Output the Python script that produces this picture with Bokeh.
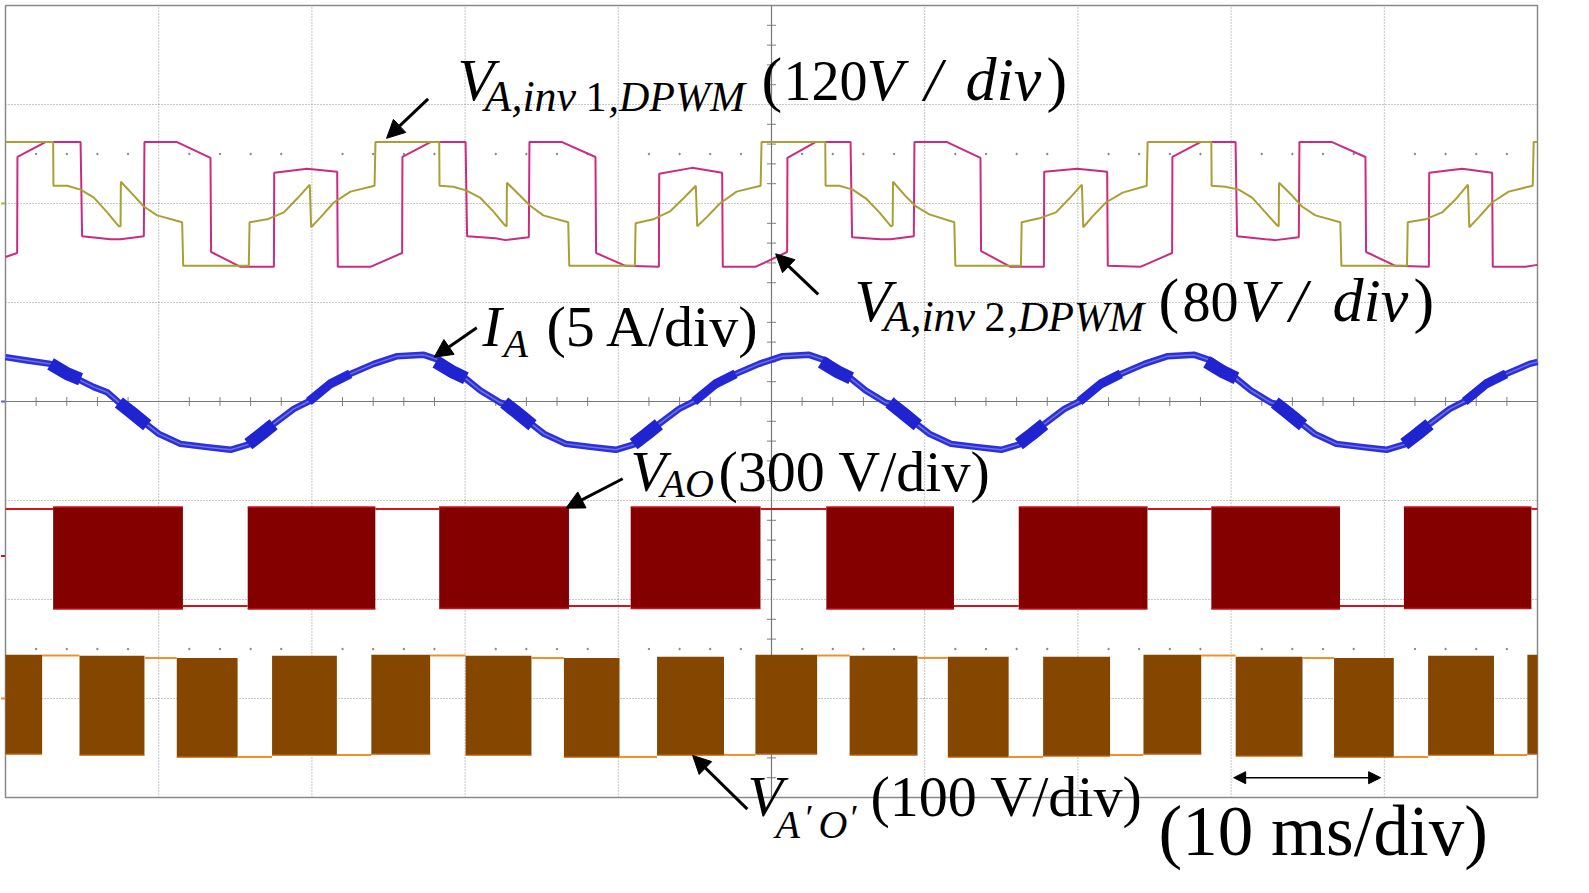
from bokeh.plotting import figure
from bokeh.models import Label, Arrow, NormalHead, Range1d
from bokeh.embed import file_html
from bokeh.resources import INLINE

# ---------- channel 1: V_A,inv2 (magenta), time in ms, level in divisions ----------
pink_t = [0, 0.76, 0.78, 2.61, 4.90, 5.00, 6.85, 7.51, 9.03, 9.07, 11.20, 13.38, 13.42, 15.34, 17.52, 17.54, 19.69, 21.65, 21.69, 23.82, 25.89,
          25.91, 27.74, 30.03, 30.13, 31.98, 32.64, 34.16, 34.20, 36.33, 38.51, 38.55, 40.47, 42.65, 42.67, 44.82, 46.78, 46.82, 48.95, 51.02,
          51.04, 52.87, 55.16, 55.26, 57.11, 57.77, 59.29, 59.33, 61.46, 63.64, 63.68, 65.60, 67.78, 67.80, 69.95, 71.91, 71.95, 74.08, 76.15,
          76.17, 78.00, 80.29, 80.39, 82.24, 82.90, 84.42, 84.46, 86.59, 88.77, 88.81, 90.73, 92.91, 92.93, 95.08, 97.04, 97.08, 99.21, 100]
pink_v = [1.46, 1.50, 2.47, 2.62, 2.62, 1.67, 1.64, 1.64, 1.67, 2.62, 2.62, 2.46, 1.51, 1.36, 1.36, 2.31, 2.35, 2.32, 1.36, 1.36, 1.50,
          2.47, 2.62, 2.62, 1.67, 1.65, 1.63, 1.66, 2.62, 2.62, 2.47, 1.50, 1.37, 1.36, 2.30, 2.36, 2.31, 1.36, 1.36, 1.51,
          2.46, 2.62, 2.62, 1.66, 1.64, 1.64, 1.67, 2.62, 2.62, 2.46, 1.52, 1.36, 1.36, 2.32, 2.35, 2.32, 1.37, 1.36, 1.50,
          2.47, 2.62, 2.62, 1.67, 1.64, 1.63, 1.66, 2.62, 2.62, 2.47, 1.51, 1.37, 1.36, 2.31, 2.35, 2.31, 1.36, 1.36, 1.38]

# ---------- channel 2: V_A,inv1 (olive) ----------
olive_t = [0, 3.11, 3.13, 4.03, 4.90, 5.77, 6.64, 7.40, 7.51, 7.53, 8.38, 9.03, 9.90, 11.53, 11.60, 15.88, 15.93, 17.08, 18.17, 19.04, 19.86, 19.95, 20.56, 21.43, 22.52, 24.09, 24.15,
           28.31, 28.33, 29.23, 30.10, 30.97, 31.84, 32.60, 32.71, 32.73, 33.58, 34.23, 35.10, 36.73, 36.80, 41.08, 41.13, 42.28, 43.37, 44.24, 45.06, 45.15, 45.76, 46.63, 47.72, 49.29, 49.35,
           53.51, 53.53, 54.43, 55.30, 56.17, 57.04, 57.80, 57.91, 57.93, 58.78, 59.43, 60.30, 61.93, 62.00, 66.28, 66.33, 67.48, 68.57, 69.44, 70.26, 70.35, 70.96, 71.83, 72.92, 74.49, 74.55,
           78.71, 78.73, 79.63, 80.50, 81.37, 82.24, 83.00, 83.11, 83.13, 83.98, 84.63, 85.50, 87.13, 87.20, 91.48, 91.53, 92.68, 93.77, 94.64, 95.46, 95.55, 96.16, 97.03, 98.12, 99.69, 99.75, 100]
olive_v = [2.62, 2.62, 2.18, 2.18, 2.14, 2.06, 1.91, 1.77, 1.77, 2.22, 2.08, 1.97, 1.88, 1.81, 1.37, 1.37, 1.81, 1.84, 1.91, 2.05, 2.19, 1.76, 1.86, 2.01, 2.12, 2.18, 2.62,
           2.62, 2.18, 2.17, 2.13, 2.06, 1.92, 1.78, 1.77, 2.21, 2.08, 1.98, 1.88, 1.81, 1.37, 1.37, 1.80, 1.84, 1.92, 2.05, 2.18, 1.77, 1.86, 2.00, 2.12, 2.18, 2.62,
           2.62, 2.18, 2.18, 2.14, 2.05, 1.91, 1.77, 1.78, 2.22, 2.07, 1.97, 1.89, 1.81, 1.37, 1.37, 1.81, 1.85, 1.91, 2.05, 2.19, 1.76, 1.87, 2.01, 2.11, 2.18, 2.62,
           2.62, 2.18, 2.17, 2.14, 2.06, 1.91, 1.78, 1.77, 2.21, 2.08, 1.97, 1.88, 1.81, 1.37, 1.37, 1.81, 1.84, 1.91, 2.04, 2.19, 1.76, 1.86, 2.01, 2.12, 2.18, 2.62, 2.62]

# ---------- channel 3: I_A (blue) ----------
curr_t = [0, 1.41, 2.94, 4.03, 5.77, 6.64, 7.51, 9.03, 10.01, 11.42, 13.16, 14.69, 15.99, 17.52, 18.82, 19.91, 21.21, 22.52, 24.04, 25.57,
          27.31, 28.39, 29.92, 31.00, 32.31, 32.66, 34.18, 35.16, 36.57, 38.31, 39.84, 41.14, 42.67, 43.97, 45.06, 46.36, 47.67, 49.19, 50.72,
          52.46, 53.54, 55.07, 56.15, 57.46, 57.81, 59.33, 60.31, 61.72, 63.46, 64.99, 66.29, 67.82, 69.12, 70.21, 71.51, 72.82, 74.34, 75.87,
          77.61, 78.69, 80.22, 81.30, 82.61, 82.96, 84.48, 85.46, 86.87, 88.61, 90.14, 91.44, 92.97, 94.27, 95.36, 96.66, 97.97, 99.49, 100]
curr_v = [0.448, 0.414, 0.380, 0.279, 0.145, 0.094, -0.024, -0.209, -0.327, -0.428, -0.461, -0.488, -0.428, -0.226, -0.074, 0.010, 0.178, 0.279, 0.380, 0.458,
          0.471, 0.414, 0.246, 0.111, -0.013, -0.024, -0.209, -0.327, -0.428, -0.461, -0.488, -0.428, -0.226, -0.074, 0.010, 0.178, 0.279, 0.380, 0.458,
          0.471, 0.414, 0.246, 0.111, -0.013, -0.024, -0.209, -0.327, -0.428, -0.461, -0.488, -0.428, -0.226, -0.074, 0.010, 0.178, 0.279, 0.380, 0.458,
          0.471, 0.414, 0.246, 0.111, -0.013, -0.024, -0.209, -0.327, -0.428, -0.461, -0.488, -0.428, -0.226, -0.074, 0.010, 0.178, 0.279, 0.380, 0.400]
burst_strong_t = [[2.94, 4.03, 4.90], [7.40, 8.30, 9.25], [15.85, 16.70, 17.50],
                  [28.09, 29.18, 30.05], [32.55, 33.45, 34.40], [41.00, 41.85, 42.65],
                  [53.25, 54.33, 55.20], [57.70, 58.60, 59.55], [66.15, 67.00, 67.80],
                  [78.40, 79.48, 80.35], [82.85, 83.75, 84.70], [91.30, 92.15, 92.95]]
burst_strong_v = [[0.38, 0.28, 0.225], [-0.01, -0.12, -0.24], [-0.43, -0.33, -0.23],
                  [0.40, 0.30, 0.235], [-0.01, -0.12, -0.24], [-0.43, -0.33, -0.23],
                  [0.40, 0.30, 0.235], [-0.01, -0.12, -0.24], [-0.43, -0.33, -0.23],
                  [0.40, 0.30, 0.235], [-0.01, -0.12, -0.24], [-0.43, -0.33, -0.23]]
burst_weak_t = [[19.80, 21.20, 22.50], [44.95, 46.35, 47.65], [70.10, 71.50, 72.80], [95.25, 96.65, 97.95]]
burst_weak_v = [[0.00, 0.178, 0.279], [0.00, 0.178, 0.279], [0.00, 0.178, 0.279], [0.00, 0.178, 0.279]]

# ---------- channel 4: V_AO (dark red PWM bursts) ----------
red_start = [3.11, 15.81, 28.31, 40.81, 53.58, 66.14, 78.71, 91.28]
red_end = [11.58, 24.14, 36.78, 49.28, 61.91, 74.54, 87.11, 99.60]
red_top = [-1.065, -1.065, -1.065, -1.065, -1.065, -1.065, -1.065, -1.065]
red_bottom = [-2.095, -2.095, -2.090, -2.090, -2.095, -2.095, -2.095, -2.090]
red_gap_start = [0, 11.58, 24.14, 36.78, 49.28, 61.91, 74.54, 87.11, 99.60]
red_gap_end = [3.11, 15.81, 28.31, 40.81, 53.58, 66.14, 78.71, 91.28, 100]
red_gap_level = [-1.085, -2.065, -1.085, -2.065, -1.085, -2.065, -1.085, -2.065, -1.085]

# ---------- channel 5: V_A'O' (brown PWM bursts) ----------
brown_start = [0, 4.83, 11.18, 17.40, 23.88, 30.03, 36.45, 42.53, 48.95, 55.10, 61.51, 67.73, 74.28, 80.30, 86.72, 92.86, 99.34]
brown_end = [2.39, 9.07, 15.15, 21.63, 27.72, 34.33, 40.08, 46.90, 52.98, 59.53, 65.48, 72.10, 78.05, 84.66, 90.62, 97.16, 100]
brown_top = [-2.559, -2.569, -2.59, -2.569, -2.559, -2.569, -2.59, -2.579, -2.559, -2.569, -2.579, -2.579, -2.559, -2.579, -2.59, -2.569, -2.559]
brown_bottom = [-3.562, -3.572, -3.593, -3.572, -3.562, -3.572, -3.593, -3.572, -3.562, -3.572, -3.593, -3.582, -3.562, -3.582, -3.593, -3.572, -3.562]
brown_gap_start = [2.39, 9.07, 15.15, 21.63, 27.72, 34.33, 40.08, 46.90, 52.98, 59.53, 65.48, 72.10, 78.05, 84.66, 90.62, 97.16]
brown_gap_end = [4.83, 11.18, 17.40, 23.88, 30.03, 36.45, 42.53, 48.95, 55.10, 61.51, 67.73, 74.28, 80.30, 86.72, 92.86, 99.34]
brown_gap_level = [-2.565, -2.59, -3.59, -3.57, -2.565, -2.59, -3.59, -3.57, -2.565, -2.59, -3.59, -3.57, -2.565, -2.59, -3.59, -3.57]

# ---------- channel ground markers on the left edge ----------
marker_v = [2.0, 0.0, -1.56, -3.0]
marker_color = ["#b8b040", "#5a5fe0", "#d0141c", "#f0902a"]

# ---------- scope graticule ----------
grid_t = [10, 20, 30, 40, 60, 70, 80, 90]
grid_v = [3, 2, 1, -1, -2, -3]
tick_t = [2, 4, 6, 8, 12, 14, 16, 18, 22, 24, 26, 28, 32, 34, 36, 38, 42, 44, 46, 48,
          52, 54, 56, 58, 62, 64, 66, 68, 72, 74, 76, 78, 82, 84, 86, 88, 92, 94, 96, 98]
tick_v = [3.8, 3.6, 3.4, 3.2, 2.8, 2.6, 2.4, 2.2, 1.8, 1.6, 1.4, 1.2, 0.8, 0.6, 0.4, 0.2,
          -0.2, -0.4, -0.6, -0.8, -1.2, -1.4, -1.6, -1.8, -2.2, -2.4, -2.6, -2.8, -3.2, -3.4, -3.6, -3.8]

W, H = 1589, 893
PX_MS = 15.32
PX_DIV = 99.0
def tx(px): return (px - 5) / PX_MS
def ty(py): return (401 - py) / PX_DIV

p = figure(width=W, height=H, output_backend="svg", toolbar_location=None,
           x_range=Range1d(tx(0), tx(W)), y_range=Range1d(ty(H), ty(0)),
           min_border=0, outline_line_color=None, background_fill_color="white",
           border_fill_color="white")
p.axis.visible = False
p.grid.visible = False

GRID = "#8c8c8c"
n = len(grid_t)
p.segment(grid_t, [-4] * n, grid_t, [4] * n, line_color=GRID, line_width=1, line_dash="1 2")
m = len(grid_v)
p.segment([0] * m, grid_v, [100] * m, grid_v, line_color=GRID, line_width=1, line_dash="1 2")
p.segment(tick_t, [-0.045] * len(tick_t), tick_t, [0.045] * len(tick_t), line_color="#808080", line_width=1)
p.segment([49.7] * len(tick_v), tick_v, [50.3] * len(tick_v), tick_v, line_color="#808080", line_width=1)
p.scatter(tick_t, [2.5] * len(tick_t), size=1.5, color="#808080")
p.scatter(tick_t, [-2.5] * len(tick_t), size=1.5, color="#808080")
p.segment([50], [-4], [50], [4], line_color="#777777", line_width=1.2)
p.segment([0], [0], [100], [0], line_color="#777777", line_width=1.2)
p.quad(left=[0], right=[100], top=[4], bottom=[-4], fill_color=None, line_color="#8a8a8a", line_width=1.5)
p.scatter([-0.16] * len(marker_v), marker_v, marker="dash", size=4, line_color=marker_color, line_width=2)

p.quad(left=red_start, right=red_end, top=red_top, bottom=red_bottom, fill_color="#840000", line_color=None)
p.segment(red_start, red_top, red_end, red_top, line_color="#c8121a", line_width=1.5)
p.segment(red_start, red_bottom, red_end, red_bottom, line_color="#c8121a", line_width=1.5)
p.segment(red_gap_start, red_gap_level, red_gap_end, red_gap_level, line_color="#d0141c", line_width=2)

p.quad(left=brown_start, right=brown_end, top=brown_top, bottom=brown_bottom, fill_color="#854700", line_color=None)
p.segment(brown_start, brown_bottom, brown_end, brown_bottom, line_color="#c86a10", line_width=1.2)
p.segment(brown_gap_start, brown_gap_level, brown_gap_end, brown_gap_level, line_color="#f0902a", line_width=2)

p.line(curr_t, curr_v, line_color="#2b30d8", line_width=6.5, line_join="round")
p.line(curr_t, curr_v, line_color="#6d72e6", line_width=1.5, line_join="round")
p.multi_line(burst_weak_t, burst_weak_v, line_color="#2226d4", line_width=9)
p.multi_line(burst_strong_t, burst_strong_v, line_color="#1f23d0", line_width=13)

p.line(pink_t, pink_v, line_color="#cc2a80", line_width=2)
p.line(olive_t, olive_v, line_color="#a8a035", line_width=2)

SERIF = "Liberation Serif"
def txt(s, px, py, size, style="normal"):
    p.add_layout(Label(x=tx(px), y=ty(py - 0.36 * size), text=s, text_font=SERIF, text_font_size=f"{size}px",
                       text_font_style=style, text_color="#000000", text_baseline="alphabetic"))

# V_A,inv1,DPWM (120 V / div)
txt("V", 457, 101, 60, "italic")
txt("A,inv", 484, 112, 44, "italic")
txt("1", 585, 112, 42)
txt(",DPWM", 608, 112, 42, "italic")
txt("(", 761, 101, 62)
txt("120", 783, 101, 56)
txt("V", 866, 101, 60, "italic")
txt("/", 924, 101, 62, "italic")
txt("div", 965, 101, 62, "italic")
txt(")", 1046, 101, 62)
# V_A,inv2,DPWM (80 V / div)
txt("V", 854, 322, 60, "italic")
txt("A,inv", 883, 332, 44, "italic")
txt("2", 984, 332, 42)
txt(",DPWM", 1007, 332, 42, "italic")
txt("(", 1158, 322, 62)
txt("80", 1182, 322, 56)
txt("V", 1240, 322, 60, "italic")
txt("/", 1289, 322, 62, "italic")
txt("div", 1332, 322, 62, "italic")
txt(")", 1413, 322, 62)
# I_A (5 A/div)
txt("I", 482, 347, 58, "italic")
txt("A", 503, 357, 40, "italic")
txt("(5 A/div)", 546, 347, 58)
# V_AO (300 V/div)
txt("V", 630, 492, 58, "italic")
txt("AO", 660, 497, 40, "italic")
txt("(300 V/div)", 718, 492, 58)
# V_A'O' (100 V/div)
txt("V", 747, 817, 58, "italic")
txt("A", 775, 838, 40, "italic")
txt("\u2032", 803, 830, 36, "italic")
txt("O", 818, 838, 40, "italic")
txt("\u2032", 848, 830, 36, "italic")
txt("(100 V/div)", 870, 817, 58)
txt("(10 ms/div)", 1158, 856, 71)

def arrow(x0, y0, x1, y1, width=3, size=18, both=False):
    k = 1.0133
    head = NormalHead(size=size, fill_color="black", line_color="black", line_width=1)
    start = NormalHead(size=size, fill_color="black", line_color="black", line_width=1) if both else None
    p.add_layout(Arrow(x_start=tx(x0 * k), y_start=ty(y0 * k), x_end=tx(x1 * k), y_end=ty(y1 * k),
                       line_width=width, line_color="black", end=head, start=start))

arrow(422, 97, 381, 136)
arrow(807, 290, 765, 250)
arrow(470, 323, 428, 352)
arrow(614, 472, 558, 501)
arrow(737, 798, 683, 745)
arrow(1217, 767, 1362, 767, width=1.5, size=12, both=True)

open("out.html", "w").write(file_html(p, INLINE))
